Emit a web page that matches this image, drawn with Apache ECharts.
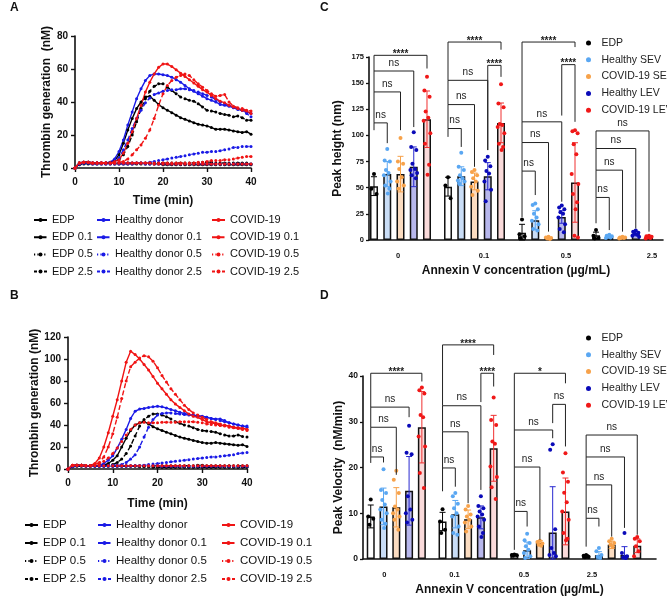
<!DOCTYPE html>
<html><head><meta charset="utf-8">
<script src="https://cdn.jsdelivr.net/npm/echarts@6/dist/echarts.min.js"></script>
<style>html,body{margin:0;padding:0;background:#fff;width:667px;height:599px;overflow:hidden}
.c{position:absolute;left:0;top:0;width:667px;height:599px;}</style>
</head><body>
<div id="left" class="c"></div><div id="right" class="c"></div>
<script>
// ---------------- DATA ----------------
const timeMin = [0,1,2,3,4,5,6,7,8,9,10,11,12,13,14,15,16,17,18,19,20,21,22,23,24,25,26,27,28,29,30,31,32,33,34,35,36,37,38,39,40];
// Panel A (thrombin generation, nM)
const aEdp   = [0,3,3.5,3.5,3,3,3,3,3.5,4.5,8, 15,23,30,36,40,43,43.5,41,38.5,36.5, 35,33.5,32,30.5,29.5,28.5,27.5,26.5,26,25.5, 24.5,23.5,23.5,23.5,23,22.5,22,21.5,22,20.5];
const aEdp01 = [0,3,3.5,3.5,3,3,3,3,3,3.5,5, 8,13,20,28,36,42,46.5,49.5,51,51, 49,47,45,43,42,41,40.5,39,37,35, 34.5,34,33,32.5,32,31,31.5,30.5,29,29];
const aEdp05 = [0,3,3.5,3.5,3,3,3,3,3,3,3, 3,3,3,3,3,3,3,3,3,3, 3,3,3,3,3,3,3,3,3.5,3.5, 3.5,3,3,3,3,3,3,3,3,2.5];
const aEdp25 = [0,2,2.5,2.5,2.5,2.5,2.5,2.5,2.5,2.5,2.5, 2.5,2.5,2.5,2.5,2.5,2.5,2.5,2.5,2.5,2, 2,2,2,2,2,2,2,2,2,2, 2,2,2,2,2,2,2,2,2,2];
const aHd    = [0,3,3.5,3.5,3,3,3,3,3.5,5.5,10, 17,26,34,42,48,53,56,57,57,56.5, 56,55,53.5,52,50,48,46.5,45,43.5,42, 41,40,38.5,38,37.5,36.5,35.5,35,34,33];
const aHd01  = [0,3,3.5,3.5,3,3,3,3,3,4,6, 11,17,24,30,35,39.5,42.5,44.5,45.5,46.5, 47,47.5,47.5,48,48,47.5,47,46,45,44, 43,41.5,40,39,38,37,36,35,33,31];
const aHd05  = [0,2.5,3,3,2.5,2.5,2.5,2.5,2.5,2.5,2.5, 2.5,2.5,2.5,3,3,3,3.5,4,4.5,5, 5.5,6,6.5,7,7.5,8,8.5,9,9.5,9.5, 10,10,10.5,11,11.5,12.5,12.5,13,13,13];
const aHd25  = [0,2.5,3,3,3,3,3,3,3,3,3, 3,3,3,3,3,2.5,2.5,2.5,2.5,2.5, 2.5,2.5,2.5,2.5,2.5,2.5,2.5,2.5,2.5,2.5, 2.5,2.5,2.5,2.5,2.5,2.5,2.5,2.5,2.5,2.5];
const aCov   = [0,3,3.5,3.5,3,3,3,3,3,4,5, 9,15,22,30,38,46,52,57,61,63, 63,61.5,59.5,57.5,55.5,53.5,51.5,49.5,47.5,46, 44,42,40.5,39.5,38,37,36,35,34.5,33];
const aCov01 = [0,3,3.5,3.5,3,3,3,3,3,3,3.5, 4,5.5,8,11,14,18,23,30,38,45, 50,53,55,56,57,56,53.5,51,49,47, 45,43.5,44,44.5,40,37.5,36.5,36,35,34.5];
const aCov05 = [0,3,3.5,3.5,3,3,3,3,3,3,3, 3,3,3,3,3,3,3,3,3,3, 3,3,3,3,3,3,3,3.5,3.5,4, 4.5,4.5,4.5,5,5,5.5,6,6.5,7,7];
const aCov25 = [0,3,3.5,3.5,3,3,3,3,3,3,3, 3,3,3,3,3,3,3,2.5,2.5,2.5, 2.5,2.5,2.5,2.5,2.5,2.5,2.5,2.5,2.5,2.5, 2.5,2.5,2.5,2.5,2.5,2.5,2.5,2.5,2.5,2.5];
// Panel B
const bEdp   = [0,3,3.5,3.5,3,3,3,3,3.5,5,8, 12,20,28,35,40,42,43,41,38.5,36.5, 35,33.5,32,30.5,29,28,27,26,25,24, 23.5,23.5,24,23.5,23,22.5,22,21.5,22,20.5];
const bEdp01 = [0,3,3.5,3.5,3,3,3,3,3,3.5,4, 6,9,14,21,30,39,45,48,50,50, 49,47.5,45.5,43,41.5,40,39,37.5,36,35, 34.5,34,33.5,32,31,30,30,31,29.5,29];
const bEdp05 = [0,3,3.5,3.5,3,3,3,3,3,3,3, 3,3,3,3,3,3,3,3,3,3, 3,3,3,3,3,3,3,3,3.5,3.5, 3,3,3,3,3,3,3,3,3,3];
const bEdp25 = [0,2,2.5,2.5,2.5,2.5,2.5,2.5,2.5,2.5,2.5, 2.5,2.5,2.5,2.5,2.5,2,2,2,1.5,1.5, 1.5,1.5,1.5,1.5,1.5,1.5,1.5,1.5,1.5,1.5, 1.5,1.5,1.5,1.5,1.5,1.5,1.5,1.5,1.5,1.5];
const bHd    = [0,3,3.5,3.5,3,3,3,3,5,8,12, 19,27,36,46,52.5,54.5,55,56,56.5,57, 56.5,55.5,54,53,51.5,50.5,49.5,49,48.5,48, 47,46,45.5,45.5,44,42,41,40,39,39];
const bHd01  = [0,3,3.5,3.5,3,3,3,3,3,3,3.5, 3.5,4,6,9,13,20,29,38,45,49, 50.5,51,51,50.5,50,49.5,49,48.5,48,47.5, 47,46,45,44,43,42,41,40,39,38];
const bHd05  = [0,2.5,3,3,2.5,2.5,2.5,2.5,2.5,2.5,2.5, 2.5,2.5,2.5,2.5,3,3,3.5,4,4.5,5, 5.5,6,6.5,7,7.5,8,8.5,9,9.5,10, 10.5,11,11,11.5,12,12.5,13,14,14.5,15];
const bHd25  = [0,2.5,3,3,3,3,3,3,3,3,3, 3,3,3,3,3,3,3,3,3,3, 2.5,2.5,2.5,2.5,2.5,2.5,2.5,2.5,2.5,2.5, 2.5,2.5,2.5,2.5,2.5,2.5,2.5,2.5,2.5,2.5];
const bCov   = [0,3.5,3.5,3.5,3,3,5,10,20,33,48, 63,80,97,107,104,100,95,90,84,78, 73,68,63,59,56,53,50,48,47,45, 43,42,41,40,39.5,39,38,37.5,37,36];
const bCov01 = [0,3.5,3.5,3.5,3,3,4,6,11,20,32, 47,64,80,93,97,101,103,102,98,92, 85,79,73,68,63,58,54,51,49,47, 45,43,42,41,40,39,38,37,36,35];
const bCov05 = [0,3.5,3.5,3.5,3,3,4,5,7,10,14, 19,25,31,36,40,42,42.5,42,42,42, 42.5,42.5,42.5,42.5,43,43,43,43,42.5,42, 41,40.5,40,39.5,39,38,37.5,37,36.5,36];
const bCov25 = [0,3,3.5,3.5,3,3,3,3,3,3,3, 3,3,3,3,3,3,3,3,3,3, 3,3,3,3,3,3,3,3,3,3, 3,3,3,3,3,3,3,3,3,3];

// Panels C/D
const annexinLabels = ['0','0.1','0.5','2.5'];
const evGroups = ['EDP','Healthy SEV','COVID-19 SEV','Healthy LEV','COVID-19 LEV'];
// C: peak height (nm) - means, SD, individual points per concentration
const cEdpMean  = [51.5, 51, 7, 4.5];
const cHsevMean = [63, 61, 19, 3.2];
const cCsevMean = [63, 56, 2, 2.2];
const cHlevMean = [70, 61, 22, 6];
const cClevMean = [115.5, 112, 55, 2.5];
const cEdpSd  = [9, 9, 8, 3];
const cHsevSd = [12, 9, 9, 1];
const cCsevSd = [17, 8, 0.5, 0.5];
const cHlevSd = [19, 13, 6, 2];
const cClevSd = [27, 19, 38, 1];
const cEdpPts  = [[63,49,44],[60,52,40],[19.5,5.5,3.5,2],[9.5,4,2,1.5]];
const cHsevPts = [[87,76,75,67,64,62,56,52,49,44.5],[83.5,70,67,62,59,57,56,54],[35,33.5,29.5,25,21.5,18.5,15,10.5,9],[5,4,3.5,3,2.5,2]];
const cCsevPts = [[97.5,75,73,68,60,56,52,49],[67,65,62,59,56,51,47,43],[3,2.5,2,1.5,1],[3,2.5,2.5,2,2,1.5]];
const cHlevPts = [[103,89,86,73,68,67,64,62,59],[79.5,76,70.5,66,63.5,56,48,37],[33,31,29.5,26.5,25,21.5,15,10.5,7.5],[9,8,7,6,5,4,3]];
const cClevPts = [[156,143,137,123,117,114,102,92,72,62.5],[149,130.5,127,111,110,108,102,92,89,86],[105,104,102,91.5,82,63,53.5,44,36,29.5,4,2.5],[4,3.5,3,2.5,2,1.5]];
// brackets: [concentration index, group A, group B, top, leg A end, leg B end, label]
const cBrackets = [
  [0,0,1,112,105,92.6,'ns'],[0,0,2,141.6,112,105,'ns'],[0,0,3,161.6,141.6,108,'ns'],[0,0,4,176.6,161.6,164,'****'],
  [1,0,1,106.6,98.6,89,'ns'],[1,0,2,129.5,106.6,70,'ns'],[1,0,3,152.7,129.5,86,'ns'],[1,3,4,167,86,156,'****'],[1,0,4,189.3,152.7,182,'****'],
  [2,0,1,65.9,22,43,'ns'],[2,0,2,93.2,65.9,8,'ns'],[2,0,3,113,93.2,36.6,'ns'],[2,3,4,167.7,119,113,'****'],[2,0,4,189.3,113,184.5,'****'],
  [3,0,1,40.7,16,9.5,'ns'],[3,0,2,66.8,40.7,8,'ns'],[3,0,3,87.5,66.8,11,'ns'],[3,0,4,104.3,87.5,8,'ns']
];
// D: peak velocity (nM/min)
const dEdpMean  = [9.3, 8.2, 0.9, 0.6];
const dHsevMean = [11.5, 9.8, 1.9, 0.8];
const dCsevMean = [11.3, 8.7, 3.5, 3.1];
const dHlevMean = [14.9, 9.1, 5.8, 0.9];
const dClevMean = [28.8, 24.2, 10.4, 2.9];
const dEdpSd  = [2.5, 2, 0.2, 0.3];
const dHsevSd = [4, 3, 1.8, 0.8];
const dCsevSd = [4.3, 2, 0.5, 0.8];
const dHlevSd = [7.5, 2.5, 10, 1.8];
const dClevSd = [7.8, 7.2, 7.3, 1.5];
const dEdpPts  = [[13,9.3,8.8,7.5],[10.9,8.2,6.4,5.7],[1,0.9,0.8,0.7],[0.9,0.7,0.5,0.4]];
const dHsevPts = [[19.6,15.1,14.4,12.9,11.9,10.8,10,8.6,7.7,6.8],[14.4,13.7,12.1,11.1,10,9.3,7.1,5.7,5.3],[5.5,4.1,3.5,2.8,2,1.3,0.6,0.2],[2.4,1.7,0.9,0.5,0.3]];
const dCsevPts = [[19.3,17.3,14.4,11.5,10.8,10,9.3,8.6,6.4],[11.6,10.8,9.7,9.3,8.6,8,7.1,6],[4,3.7,3.4,3.1,2.9],[4.4,3.9,3.5,3.1,2.8]];
const dHlevPts = [[29.1,23.2,22.9,13.7,10.8,10,8.6,8],[13.7,11.6,11.1,10.4,9.7,9.3,8.6,7.1,5.7,4.8],[25.1,23.9,6.5,2.4,1.3,0.9,0.6],[5.7,1.3,0.6,0.4,0.2]];
const dClevPts = [[37.5,36.9,36.2,31.5,31,26.8,24.6,18.8,15.5],[35.3,30.4,29.3,25.7,25.2,20.2,17.9,15.7,13.1],[23.1,18.9,16.9,14.5,12.4,10.4,8.6,5.7,4.4,4.1],[4.8,4.4,3.9,2.8,1.7,0.6]];
const dBrackets = [
  [0,0,1,22.3,21,21.1,'ns'],[0,0,2,28.8,22.3,18.4,'ns'],[0,0,3,33.2,28.8,31,'ns'],[0,0,4,40.6,33.2,38.8,'****'],
  [1,0,1,19.9,14.8,15.8,'ns'],[1,0,2,27.8,19.9,12.2,'ns'],[1,0,3,33.5,27.8,15.1,'ns'],[1,3,4,40.6,34.3,37.7,'****'],[1,0,4,46.8,33.5,44.6,'****'],
  [2,0,1,10.4,2,7.1,'ns'],[2,0,2,20.1,10.4,4.2,'ns'],[2,0,3,28.2,20.1,26.4,'ns'],[2,3,4,33.8,29.7,24.6,'ns'],[2,0,4,40.6,28.2,38.4,'*'],
  [3,0,1,8.9,2.7,7.1,'ns'],[3,0,2,16.2,8.9,4.9,'ns'],[3,0,3,22.3,16.2,6.8,'ns'],[3,0,4,27.1,22.3,5.3,'ns']
];

// ---------------- STYLE / LAYOUT ----------------
const FONT = 'Liberation Sans';
const BLACK = '#000000', BLUE = '#1a1ae6', RED = '#f01414';

function lineSeries(name, data, color, dash, idx) {
  return {type:'line', name, xAxisIndex:idx, yAxisIndex:idx,
    data: timeMin.map((t,i)=>[t, data[i]]),
    symbol:'circle', symbolSize:3, showSymbol:true,
    lineStyle:{color, width:1.4, type:dash}, itemStyle:{color}};
}
const DASH01 = [5,2.5], DASH05 = [1.2,2.2], DASH25 = [3,2];
const defsA = [['EDP',aEdp,BLACK,'solid'],['EDP 0.1',aEdp01,BLACK,DASH01],['EDP 0.5',aEdp05,BLACK,DASH05],['EDP 2.5',aEdp25,BLACK,DASH25],
  ['Healthy donor',aHd,BLUE,'solid'],['Healthy donor 0.1',aHd01,BLUE,DASH01],['Healthy donor 0.5',aHd05,BLUE,DASH05],['Healthy donor 2.5',aHd25,BLUE,DASH25],
  ['COVID-19',aCov,RED,'solid'],['COVID-19 0.1',aCov01,RED,DASH01],['COVID-19 0.5',aCov05,RED,DASH05],['COVID-19 2.5',aCov25,RED,DASH25]];
const defsB = [['EDP',bEdp,BLACK,'solid'],['EDP 0.1',bEdp01,BLACK,DASH01],['EDP 0.5',bEdp05,BLACK,DASH05],['EDP 2.5',bEdp25,BLACK,DASH25],
  ['Healthy donor',bHd,BLUE,'solid'],['Healthy donor 0.1',bHd01,BLUE,DASH01],['Healthy donor 0.5',bHd05,BLUE,DASH05],['Healthy donor 2.5',bHd25,BLUE,DASH25],
  ['COVID-19',bCov,RED,'solid'],['COVID-19 0.1',bCov01,RED,DASH01],['COVID-19 0.5',bCov05,RED,DASH05],['COVID-19 2.5',bCov25,RED,DASH25]];

function timeXAxis(idx, gap) {
  return {type:'value', gridIndex:idx, min:0, max:40, interval:10,
    name:'Time (min)', nameLocation:'middle', nameGap:gap,
    nameTextStyle:{fontFamily:FONT, fontWeight:'bold', fontSize:12, color:'#111'},
    axisLine:{onZero:false, lineStyle:{color:'#111', width:1.6}}, axisTick:{length:4, lineStyle:{width:1.4}},
    axisLabel:{fontFamily:FONT, fontWeight:'bold', fontSize:10, color:'#111', margin:9}, splitLine:{show:false}};
}
function thrombinYAxis(idx, max, name, gap) {
  return {type:'value', gridIndex:idx, min:0, max, interval:20, name, nameLocation:'middle', nameGap:gap,
    nameTextStyle:{fontFamily:FONT, fontWeight:'bold', fontSize:12, color:'#111'},
    axisLine:{show:true, onZero:false, lineStyle:{color:'#111', width:1.6}}, axisTick:{show:true, length:4, lineStyle:{width:1.4}},
    axisLabel:{fontFamily:FONT, fontWeight:'bold', fontSize:10, color:'#111', margin:7}, splitLine:{show:false}};
}
function lineLegend(left, top, names, gap, fs) {
  return {orient:'vertical', left, top, padding:0, itemWidth:13, itemHeight:5, itemGap:gap, data:names,
    textStyle:{fontFamily:FONT, fontSize:fs, color:'#111', lineHeight:12}, selectedMode:false};
}
const col1 = ['EDP','EDP 0.1','EDP 0.5','EDP 2.5'];
const col2 = ['Healthy donor','Healthy donor 0.1','Healthy donor 0.5','Healthy donor 2.5'];
const col3 = ['COVID-19','COVID-19 0.1','COVID-19 0.5','COVID-19 2.5'];

const leftChart = echarts.init(document.getElementById('left'), null, {renderer:'canvas'});
leftChart.setOption({
  animation:false, textStyle:{fontFamily:FONT},
  grid:[{left:75, top:36, width:176, height:132},{left:68, top:337, width:179, height:132}],
  xAxis:[timeXAxis(0,27), timeXAxis(1,29)],
  yAxis:[thrombinYAxis(0,80,'Thrombin generation  (nM)',21), thrombinYAxis(1,120,'Thrombin generation (nM)',26)],
  legend:[lineLegend(33,214,col1,5.2,11), lineLegend(96,214,col2,5.2,11), lineLegend(211,214,col3,5.2,11),
          lineLegend(24,519,col1,6,11.5), lineLegend(97,519,col2,6,11.5), lineLegend(221,519,col3,6,11.5)],
  graphic:[
    {type:'text', left:10, top:2, style:{text:'A', font:'bold 12px '+FONT, fill:'#111'}},
    {type:'text', left:10, top:290, style:{text:'B', font:'bold 12px '+FONT, fill:'#111'}}
  ],
  series: defsA.map(d=>lineSeries(d[0],d[1],d[2],d[3],0)).concat(defsB.map(d=>lineSeries(d[0],d[1],d[2],d[3],1)))
});

// ---- Right: C and D ----
const dotColors  = ['#000000','#5aa7f2','#f7a24a','#0a0ab8','#f01818'];
const fillColors = ['#ffffff','#c9ddf6','#fbdcc0','#b7b7ec','#fadada'];
const errColors  = ['#000000','#5aa7f2','#f7a24a','#2a2ad0','#f03030'];
const layoutC = {grid:{left:369, top:57, width:294, height:183}, min:-0.4257, max:3.547, off:0.179,
  labelPos:[-0.034,1.128,2.236,3.399], ymax:175, yint:25, yfs:7.5};
const layoutD = {grid:{left:363, top:376, width:293, height:183}, min:-0.4638, max:3.617, off:0.178,
  labelPos:[-0.167,0.811,1.779,2.726], ymax:40, yint:10, yfs:8.5};
const jitter = [0,-0.035,0.035,-0.018,0.018,-0.045,0.045,-0.028,0.028,0.008,-0.008,0.04];

function barPanel(idx, L, means, sds, pts, brackets) {
  const offs = [-2,-1,0,1,2].map(k=>k*L.off);
  const series = [];
  for (let b=0;b<5;b++) {
    series.push({type:'bar', name:'bar'+b, xAxisIndex:idx, yAxisIndex:idx, barWidth:8, barGap:'-100%', z:2,
      data: means[b].map((v,g)=>[g+offs[b], v]),
      itemStyle:{color:fillColors[b], borderColor:'#111', borderWidth:1.5}});
  }
  for (let b=0;b<5;b++) {
    const col = errColors[b];
    series.push({type:'custom', name:'err'+b, xAxisIndex:idx, yAxisIndex:idx, z:3, clip:false,
      encode:{x:0,y:1},
      data: means[b].map((v,g)=>[g+offs[b], v, sds[b][g]]),
      renderItem:(params, api)=>{
        const x=api.value(0), m=api.value(1), s=api.value(2);
        const t=api.coord([x,m+s]), bt=api.coord([x,Math.max(0,m-s)]);
        const st={stroke:col, lineWidth:1};
        return {type:'group', children:[
          {type:'line', shape:{x1:t[0],y1:t[1],x2:bt[0],y2:bt[1]}, style:st},
          {type:'line', shape:{x1:t[0]-3,y1:t[1],x2:t[0]+3,y2:t[1]}, style:st},
          {type:'line', shape:{x1:bt[0]-3,y1:bt[1],x2:bt[0]+3,y2:bt[1]}, style:st}]};
      }});
  }
  for (let b=0;b<5;b++) {
    const data=[];
    pts[b].forEach((arr,g)=>arr.forEach((v,i)=>data.push([g+offs[b]+jitter[i%jitter.length], v])));
    series.push({type:'scatter', name:evGroups[b], xAxisIndex:idx, yAxisIndex:idx, z:4, symbolSize:4,
      itemStyle:{color:dotColors[b], opacity:1}, data});
  }
  series.push({type:'custom', name:'brackets'+idx, xAxisIndex:idx, yAxisIndex:idx, z:5, clip:false,
    encode:{x:0,y:3},
    data: brackets.map(d=>[d[0], d[1], d[2], d[3], d[4], d[5]]),
    renderItem:(params, api)=>{
      const d = brackets[params.dataIndex];
      const xa=d[0]+offs[d[1]], xb=d[0]+offs[d[2]];
      const ta=api.coord([xa,d[3]]), tb=api.coord([xb,d[3]]);
      const pa=api.coord([xa,d[4]]), pb=api.coord([xb,d[5]]);
      const star = d[6].indexOf('*')>=0;
      return {type:'group', children:[
        {type:'polyline', shape:{points:[pa,ta,tb,pb]}, style:{stroke:'#222', lineWidth:1, fill:null}},
        {type:'text', style:{text:d[6], x:(ta[0]+tb[0])/2, y: star ? ta[1]-1 : ta[1]-8,
          align:'center', verticalAlign:'middle', fontFamily:FONT, fontSize:10, fontWeight: star?'bold':'normal', fill:'#222'}}]};
    }});
  return series;
}
function barXAxis(idx, L) {
  return {type:'value', gridIndex:idx, min:L.min, max:L.max,
    name:'Annexin V concentration (µg/mL)', nameLocation:'middle', nameGap:25,
    nameTextStyle:{fontFamily:FONT, fontWeight:'bold', fontSize:12, color:'#111'},
    axisLine:{onZero:false, lineStyle:{color:'#111', width:1.6}}, axisTick:{show:false}, splitLine:{show:false},
    axisLabel:{customValues:L.labelPos, fontFamily:FONT, fontWeight:'bold', fontSize:7.5, color:'#111', margin:12,
      formatter:(v)=>{let bi=0,bd=1e9; L.labelPos.forEach((p,i)=>{const dd=Math.abs(p-v); if(dd<bd){bd=dd;bi=i;}}); return annexinLabels[bi];}}};
}
function barYAxis(idx, L, name, gap) {
  return {type:'value', gridIndex:idx, min:0, max:L.ymax, interval:L.yint, name, nameLocation:'middle', nameGap:gap,
    nameTextStyle:{fontFamily:FONT, fontWeight:'bold', fontSize:12, color:'#111'},
    axisLine:{show:true, onZero:false, lineStyle:{color:'#111', width:1.6}}, axisTick:{show:true, length:3, lineStyle:{width:1.3}},
    axisLabel:{fontFamily:FONT, fontWeight:'bold', fontSize:L.yfs, color:'#111', margin:5}, splitLine:{show:false}};
}
function dotLegend(top) {
  return {orient:'vertical', left:586, top, padding:0, itemWidth:16, itemHeight:5, itemGap:4.8, icon:'circle', data:evGroups,
    textStyle:{fontFamily:FONT, fontSize:10.5, color:'#222', lineHeight:12}, selectedMode:false};
}
const rightChart = echarts.init(document.getElementById('right'), null, {renderer:'canvas'});
rightChart.setOption({
  animation:false, textStyle:{fontFamily:FONT},
  grid:[layoutC.grid, layoutD.grid],
  xAxis:[barXAxis(0,layoutC), barXAxis(1,layoutD)],
  yAxis:[barYAxis(0,layoutC,'Peak height (nm)',25), barYAxis(1,layoutD,'Peak Velocity  (nM/min)',17)],
  legend:[dotLegend(37), dotLegend(332)],
  graphic:[
    {type:'text', left:320, top:2, style:{text:'C', font:'bold 12px '+FONT, fill:'#111'}},
    {type:'text', left:320, top:290, style:{text:'D', font:'bold 12px '+FONT, fill:'#111'}}
  ],
  series: barPanel(0, layoutC, [cEdpMean,cHsevMean,cCsevMean,cHlevMean,cClevMean], [cEdpSd,cHsevSd,cCsevSd,cHlevSd,cClevSd],
                   [cEdpPts,cHsevPts,cCsevPts,cHlevPts,cClevPts], cBrackets)
    .concat(barPanel(1, layoutD, [dEdpMean,dHsevMean,dCsevMean,dHlevMean,dClevMean], [dEdpSd,dHsevSd,dCsevSd,dHlevSd,dClevSd],
                   [dEdpPts,dHsevPts,dCsevPts,dHlevPts,dClevPts], dBrackets))
});
</script>
</body></html>
